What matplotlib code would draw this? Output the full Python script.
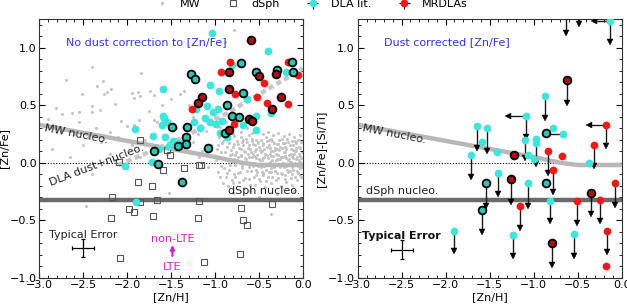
import matplotlib
matplotlib.use("Agg")
import matplotlib.pyplot as plt
from matplotlib.ticker import MultipleLocator

plt.rcParams['font.family'] = ['DejaVu Sans']
plt.rcParams['font.size'] = 8

# ---------------- data ----------------
# Milky Way stars (sparse part)
mw_sparse_x = [-2.40, -2.70, -2.27, -2.34, -1.84, -2.52, -2.23, -2.26, -2.18, -1.95, -1.875, -1.86, -1.92, -1.74,
               -1.70, -2.14, -2.81, -2.40, -2.40, -2.63, -2.55, -2.74, -2.31, -2.07, -2.00, -1.92, -1.87, -1.70,
               -1.66, -0.78, -0.89, -2.55, -2.75, -2.60, -2.45, -2.35, -2.20, -2.10, -2.30, -2.50, -2.85, -2.65,
               -2.20, -1.95, -1.80, -1.75, -1.60, -1.50, -1.40, -1.30, -1.25, -1.15, -1.45, -2.00, -1.85, -2.40,
               -2.47, -1.53, -0.37, -1.25, -1.20, -1.15, -1.10, -1.05, -1.02, -1.18, -1.08, -1.12, -1.00, -0.95,
               -0.90, -0.60, -0.30, -0.50, -0.80, -0.10, -1.35, -1.55, -2.90, -2.15]
mw_sparse_y = [0.83, 0.72, 0.71, 0.67, 0.78, 0.60, 0.615, 0.595, 0.64, 0.61, 0.615, 0.58, 0.56, 0.62,
               0.59, 0.51, 0.48, 0.49, 0.44, 0.43, 0.44, 0.42, 0.46, 0.36, 0.32, 0.33, 0.37, 0.37,
               0.35, 1.15, 1.05, 0.35, 0.28, 0.25, 0.22, 0.30, 0.27, 0.22, 0.18, 0.15, 0.12, 0.05,
               0.08, 0.15, 0.20, 0.45, 0.50, 0.55, 0.60, 0.50, 0.40, 0.32, 0.30, -0.05, 0.05, -0.10,
               -0.38, -0.26, -0.45, 0.18, 0.25, 0.10, 0.28, 0.15, 0.33, 0.05, -0.04, 0.38, 0.40, 0.45,
               0.42, -0.25, -0.27, -0.30, -0.26, -0.25, 0.62, 0.08, 0.38, 0.02]
# Milky Way stars (dense cloud at high metallicity)
mw_cloud_x = [-0.98, -0.96, -0.95, -0.93, -0.92, -0.90, -0.89, -0.88, -0.87, -0.86, -0.85, -0.84, -0.83, -0.82,
              -0.81, -0.80, -0.79, -0.78, -0.77, -0.76, -0.75, -0.74, -0.73, -0.72, -0.71, -0.70, -0.69, -0.68,
              -0.67, -0.66, -0.65, -0.64, -0.63, -0.62, -0.61, -0.60, -0.59, -0.58, -0.57, -0.56, -0.55, -0.54,
              -0.53, -0.52, -0.51, -0.50, -0.49, -0.48, -0.47, -0.46, -0.45, -0.44, -0.43, -0.42, -0.41, -0.40,
              -0.39, -0.38, -0.37, -0.36, -0.35, -0.34, -0.33, -0.32, -0.31, -0.30, -0.29, -0.28, -0.27, -0.26,
              -0.25, -0.24, -0.23, -0.22, -0.21, -0.20, -0.19, -0.18, -0.17, -0.16, -0.15, -0.14, -0.13, -0.12,
              -0.11, -0.10, -0.09, -0.08, -0.07, -0.06, -0.05, -0.04, -0.03, -0.02, -0.01,
              -0.97, -0.94, -0.91, -0.88, -0.85, -0.82, -0.79, -0.76, -0.73, -0.70, -0.67, -0.64, -0.61, -0.58,
              -0.55, -0.52, -0.49, -0.46, -0.43, -0.40, -0.37, -0.34, -0.31, -0.28, -0.25, -0.22, -0.19, -0.16,
              -0.13, -0.10, -0.07, -0.04, -0.02,
              -0.66, -0.63, -0.59, -0.56, -0.53, -0.50, -0.47, -0.44, -0.41, -0.38, -0.35, -0.32, -0.29, -0.26,
              -0.23, -0.20, -0.17, -0.14, -0.11, -0.08, -0.05, -0.62, -0.57, -0.48, -0.42, -0.33, -0.27, -0.19,
              -0.12, -0.03, -0.74, -0.71, -0.68, -0.80, -0.77,
              -0.61, -0.54, -0.45, -0.36, -0.24, -0.15, -0.06, -0.69, -0.51, -0.39, -0.21, -0.09, -0.58, -0.30,
              -0.99, -0.97, -0.94, -0.93, -0.91, -0.90, -0.87, -0.86, -0.84, -0.83, -0.81, -0.80, -0.78, -0.77,
              -0.75, -0.74, -0.72, -0.71, -0.69, -0.68, -0.66, -0.65, -0.64, -0.62, -0.61, -0.60, -0.58, -0.57,
              -0.56, -0.55, -0.54, -0.52, -0.51, -0.50, -0.49, -0.48, -0.47, -0.46, -0.45, -0.44, -0.43, -0.42,
              -0.41, -0.40, -0.39, -0.38, -0.37, -0.36, -0.35, -0.34, -0.33, -0.32, -0.31, -0.30, -0.29, -0.28,
              -0.27, -0.26, -0.25, -0.24, -0.23, -0.22, -0.21, -0.20, -0.19, -0.18, -0.17, -0.16, -0.15, -0.14,
              -0.13, -0.12, -0.11, -0.10, -0.09, -0.08, -0.07, -0.06, -0.05, -0.04, -0.03, -0.02, -0.01, -0.015,
              -0.035, -0.055, -0.075, -0.095, -0.115, -0.135]
mw_cloud_y = [0.12, 0.22, 0.05, -0.03, 0.17, 0.28, 0.09, -0.12, 0.02, 0.14, 0.21, -0.06, 0.07, 0.11,
              -0.15, 0.25, 0.03, 0.16, -0.02, 0.09, 0.19, -0.09, 0.13, 0.01, 0.22, 0.06, -0.05, 0.15,
              0.10, -0.13, 0.03, 0.18, 0.08, -0.01, 0.24, 0.12, -0.07, 0.05, 0.16, 0.00, 0.10, -0.11,
              0.20, 0.07, -0.03, 0.14, 0.02, 0.09, -0.08, 0.17, 0.04, 0.12, -0.02, 0.22, 0.07, -0.12,
              0.15, 0.01, 0.10, -0.05, 0.19, 0.06, -0.01, 0.13, 0.08, -0.09, 0.03, 0.16, 0.11, -0.04,
              0.05, 0.21, 0.00, 0.09, -0.14, 0.14, 0.04, -0.06, 0.18, 0.07, 0.01, 0.12, -0.10, 0.06,
              0.15, -0.02, 0.10, 0.03, -0.07, 0.20, 0.08, -0.01, 0.13, 0.04, -0.04,
              -0.08, 0.31, -0.18, 0.35, -0.20, 0.29, -0.10, 0.32, -0.17, 0.27, -0.22, 0.30, -0.14, 0.26,
              -0.19, 0.28, -0.16, 0.25, -0.21, 0.27, -0.18, 0.24, -0.15, 0.26, -0.20, 0.23, -0.17, 0.25,
              -0.19, 0.22, -0.15, 0.24, -0.12,
              0.04, 0.13, 0.09, 0.06, 0.12, 0.03, 0.10, 0.05, 0.14, 0.08, 0.02, 0.11, 0.07, 0.14,
              0.05, 0.09, 0.02, 0.08, 0.04, 0.13, 0.02, -0.04, -0.03, -0.04, -0.06, -0.04, -0.02, -0.03,
              -0.04, -0.05, 0.05, 0.12, 0.20, 0.14, 0.07,
              0.00, -0.06, -0.09, -0.08, -0.10, -0.07, -0.09, -0.03, 0.18, 0.20, 0.17, 0.19, 0.21, 0.16,
              0.02, 0.15, -0.12, 0.09, 0.19, -0.05, 0.24, -0.09, 0.17, -0.02, 0.08, -0.18, 0.23, -0.12,
              0.02, 0.16, -0.08, 0.07, 0.18, -0.15, 0.09, 0.21, -0.07, 0.15, 0.05, -0.19, 0.19, 0.08,
              -0.12, 0.15, 0.04, -0.08, 0.17, -0.14, 0.11, 0.20, 0.02, -0.11, 0.15, -0.03, 0.08, -0.16,
              0.19, 0.04, -0.08, 0.13, 0.21, 0.06, -0.12, 0.10, 0.17, -0.07, 0.02, 0.12, -0.13, 0.07,
              0.20, 0.03, -0.09, 0.13, 0.17, -0.04, 0.06, -0.11, 0.12, 0.21, -0.08, 0.03, 0.15, -0.13,
              0.06, 0.19, -0.06, 0.08, -0.12, 0.17, 0.05, -0.09, 0.14, 0.06, -0.11, 0.18, 0.09, -0.02,
              0.01, -0.03, 0.10, 0.00, 0.11, 0.01]

# dSph stars (left panel only)
dsph_x = [-1.86, -1.55, -1.515, -2.09, -1.59, -1.35, -1.18, -1.16, -1.875, -1.72, -2.17, -1.86, -1.66, -1.18,
          -1.98, -1.92, -2.18, -1.71, -1.19, -0.70, -0.35, -0.68, -0.64, -2.08, -1.13, -0.72]
dsph_y = [0.195, 0.11, 0.07, 0.005, -0.06, -0.05, -0.02, -0.02, -0.17, -0.20, -0.30, -0.34, -0.32, -0.33,
          -0.40, -0.43, -0.48, -0.46, -0.48, -0.39, -0.36, -0.50, -0.54, -0.83, -0.86, -0.79]

# Left panel: no dust correction
dla_x = [-1.03, -0.394, -0.19, -0.81, -1.06, -0.96, -0.64, -1.59, -0.37, -0.53, -0.53, -0.68, -0.87, -1.22,
         -1.09, -1.02, -0.97, -1.12, -1.06, -0.985, -0.92, -0.95, -1.24, -1.175, -1.91, -1.59, -1.60, -1.71,
         -1.57, -1.48, -1.40, -1.53, -1.64, -2.03, -1.72, -1.90, -1.545, -1.58]
dla_y = [1.125, 0.974, 0.79, 0.85, 0.68, 0.625, 0.55, 0.645, 0.43, 0.41, 0.285, 0.33, 0.22, 0.465,
         0.49, 0.44, 0.465, 0.39, 0.35, 0.335, 0.36, 0.26, 0.35, 0.305, 0.29, 0.41, 0.33, 0.23,
         0.22, 0.19, 0.175, 0.145, 0.12, -0.03, 0.005, -0.34, 0.35, 0.39]
dlab_x = [-0.70, -0.54, -0.30, -0.13, -0.11, -1.28, -1.23, -0.68, -0.87, -0.81, -0.73, -0.89, -1.49, -1.32,
          -1.33, -1.33, -1.42, -1.70, -1.08, -1.65, -1.38]
dlab_y = [0.863, 0.785, 0.805, 0.88, 0.79, 0.77, 0.73, 0.61, 0.50, 0.41, 0.40, 0.26, 0.31, 0.31,
          0.22, 0.16, 0.145, 0.10, 0.125, -0.01, -0.17]
mr_x = [-0.83, -0.93, -0.17, -0.06, -0.44, -0.77, -0.52, -0.405, -0.17, -1.26, -0.78]
mr_y = [0.88, 0.79, 0.88, 0.76, 0.69, 0.60, 0.57, 0.52, 0.515, 0.47, 0.34]
mrb_x = [-0.595, -0.84, -0.50, -0.31, -0.84, -0.25, -0.35, -1.15, -1.19, -0.61, -0.58, -0.845]
mrb_y = [1.064, 0.79, 0.75, 0.77, 0.645, 0.57, 0.47, 0.57, 0.52, 0.38, 0.36, 0.285]

# Right panel: dust corrected (value, downward-limit end, leftward-limit end)
rdla_x = [-0.13, -0.867, -1.09, -0.67, -0.78, -1.64, -1.53, -1.59, -1.42, -1.10, -0.97, -0.975, -1.06, -1.00,
          -1.71, -0.37, -1.40, -1.07, -0.815, -1.905, -1.23, -0.54]
rdla_y = [1.235, 0.58, 0.41, 0.25, 0.30, 0.32, 0.30, 0.18, 0.09, 0.20, 0.21, 0.17, 0.07, 0.035,
          0.07, 0.00, -0.087, -0.18, -0.33, -0.59, -0.63, -0.62]
rdla_down = [1.05, 0.39, 0.22, None, None, 0.13, 0.10, None, None, 0.04, -0.01, None, None, None,
             -0.12, None, -0.276, -0.38, -0.51, -0.77, -0.81, -0.81]
rdla_left = [-0.32, None, -1.29, -0.86, None, None, None, None, None, None, None, None, None, None,
             None, None, None, None, None, None, None, None]
rdlab_x = [-0.86, -1.545, -0.86, -1.59]
rdlab_y = [0.26, -0.18, -0.175, -0.41]
rdlab_down = [None, -0.38, None, -0.60]
rmr_x = [-0.18, -0.32, -0.84, -0.675, -0.78, -1.15, -0.51, -0.25, -0.076, -0.17, -0.18]
rmr_y = [0.33, 0.15, 0.10, 0.06, -0.064, -0.38, -0.33, -0.325, -0.18, -0.59, -0.895]
rmr_down = [0.145, -0.03, -0.09, None, -0.256, -0.57, -0.52, -0.51, -0.37, -0.78, None]
rmr_left = [-0.37, None, None, None, None, None, None, None, None, None, None]
rmrb_x = [-0.625, -1.22, -1.26, -0.35, -0.79]
rmrb_y = [0.718, 0.07, -0.145, -0.26, -0.70]
rmrb_down = [0.52, None, -0.34, -0.45, -0.89]
# limits from points above the plotted range
off_x = [-0.636, -0.49]
off_y = [1.40, 1.35]
off_down = [1.13, 1.21]

# model curves
mwn_x = [-3.0, -2.5, -2.0, -1.5, -1.0, -0.7, -0.5, 0.0]
mwn_y = [0.33, 0.26, 0.19, 0.12, 0.05, 0.00, -0.02, -0.02]
dlan_x = [-2.1, -1.7, -1.33, -0.8, -0.4, 0.0]
dlan_y = [-0.02, 0.11, 0.23, 0.46, 0.64, 0.82]
dsph_nucleo = -0.32

# ---------------- style ----------------
C_CYAN = '#3fe5da'
C_CYANB = '#2fc4b6'
C_RED = '#ee1a1a'
C_REDB = '#b01010'
C_MW = '#c4c4c4'
C_TXT = '#3333dd'
MS = 5.6

fig = plt.figure(figsize=(6.27, 3.04), dpi=100)
ax1 = fig.add_axes([0.0627, 0.0865, 0.4206, 0.851])
ax2 = fig.add_axes([0.5705, 0.0865, 0.4210, 0.851])

for ax in (ax1, ax2):
    ax.set_xlim(-3.0, 0.0)
    ax.set_ylim(-1.0, 1.25)
    ax.xaxis.set_major_locator(MultipleLocator(0.5))
    ax.xaxis.set_minor_locator(MultipleLocator(0.1))
    ax.yaxis.set_major_locator(MultipleLocator(0.5))
    ax.yaxis.set_minor_locator(MultipleLocator(0.1))
    ax.tick_params(which='both', direction='in', top=True, right=True, labelsize=8, pad=2)
    ax.tick_params(which='major', length=4, width=0.8)
    ax.tick_params(which='minor', length=2, width=0.6)
    ax.axhline(0.0, color='k', lw=0.8, ls=(0, (1, 1.5)), zorder=1)
    ax.axhline(dsph_nucleo, color='#6a6a6a', lw=3.2, zorder=2)
    ax.plot(mwn_x, mwn_y, color='#b8b8b8', lw=3.2, zorder=2, solid_capstyle='butt')
    ax.set_xlabel('[Zn/H]', fontsize=8, labelpad=1)
    for sp in ax.spines.values():
        sp.set_linewidth(0.8)
        sp.set_color('#333333')

# ---- left panel ----
ax1.plot(mw_sparse_x, mw_sparse_y, 'o', ms=2.2, color=C_MW, mec='none', zorder=1)
ax1.plot(mw_cloud_x, mw_cloud_y, 'o', ms=2.2, color=C_MW, mec='none', zorder=1)
ax1.plot(dlan_x, dlan_y, color='#c6c6c6', lw=3.2, ls=(0, (1.2, 0.8)), zorder=2)
ax1.plot(dsph_x, dsph_y, 's', ms=4.6, mfc='none', mec='#555555', mew=0.8, zorder=3)
ax1.plot(dla_x, dla_y, 'o', ms=MS, color=C_CYAN, mec='none', zorder=4)
ax1.plot(mr_x, mr_y, 'o', ms=MS, color=C_RED, mec='none', zorder=4)
ax1.plot(dlab_x, dlab_y, 'o', ms=MS, mfc=C_CYANB, mec='k', mew=1.3, zorder=5)
ax1.plot(mrb_x, mrb_y, 'o', ms=MS, mfc=C_REDB, mec='k', mew=1.3, zorder=5)
ax1.set_ylabel('[Zn/Fe]', fontsize=8, labelpad=0)

ax1.text(-2.70, 1.05, 'No dust correction to [Zn/Fe]', color=C_TXT, fontsize=8, va='center', ha='left')
ax1.text(-2.95, 0.255, 'MW nucleo.', fontsize=8, rotation=-11, ha='left', va='bottom',
         rotation_mode='anchor', color='#222222')
ax1.text(-2.86, -0.22, 'DLA dust+nucleo.', fontsize=8, rotation=21, ha='left', va='bottom',
         rotation_mode='anchor', color='#222222')
ax1.text(-0.03, -0.29, 'dSph nucleo.', fontsize=8, ha='right', va='bottom', color='#222222')
ax1.text(-2.50, -0.625, 'Typical Error', fontsize=8, ha='center', va='center', color='#222222')
ax1.errorbar([-2.5], [-0.74], xerr=[0.125], yerr=[0.08], fmt='none', ecolor='k', elinewidth=0.9,
             capsize=1.5, capthick=0.9)
ax1.text(-1.485, -0.66, 'non-LTE', fontsize=8, color='#cc22cc', ha='center', va='center')
ax1.text(-1.485, -0.905, 'LTE', fontsize=8, color='#cc22cc', ha='center', va='center')
ax1.annotate('', xy=(-1.485, -0.715), xytext=(-1.485, -0.81),
             arrowprops=dict(arrowstyle='-|>', color='#cc22cc', lw=1.6, mutation_scale=6,
                             shrinkA=0, shrinkB=0))

# ---- right panel ----
ARC = '#1a1a1a'


def limits(ax, xs, ys, downs, lefts=None):
    for i, (x, y) in enumerate(zip(xs, ys)):
        d = downs[i] if downs is not None else None
        lft = lefts[i] if lefts is not None else None
        if d is not None:
            ax.plot([x, x], [y, d], color=ARC, lw=1.0, zorder=3)
            ax.plot([x], [d], marker='v', ms=4, color='k', mec='k', mew=0.3, zorder=3)
        if lft is not None:
            ax.plot([x, lft], [y, y], color=ARC, lw=1.0, zorder=3)
            ax.plot([lft], [y], marker='<', ms=4, color='k', mec='k', mew=0.3, zorder=3)


limits(ax2, rdla_x, rdla_y, rdla_down, rdla_left)
limits(ax2, rdlab_x, rdlab_y, rdlab_down)
limits(ax2, rmr_x, rmr_y, rmr_down, rmr_left)
limits(ax2, rmrb_x, rmrb_y, rmrb_down)
limits(ax2, off_x, off_y, off_down)
ax2.plot(rdla_x, rdla_y, 'o', ms=MS, color=C_CYAN, mec='none', zorder=4)
ax2.plot(rmr_x, rmr_y, 'o', ms=MS, color=C_RED, mec='none', zorder=4)
ax2.plot(rdlab_x, rdlab_y, 'o', ms=MS, mfc=C_CYANB, mec='k', mew=1.3, zorder=5)
ax2.plot(rmrb_x, rmrb_y, 'o', ms=MS, mfc=C_REDB, mec='k', mew=1.3, zorder=5)
ax2.set_ylabel('[Zn/Fe]-[Si/Ti]', fontsize=8, labelpad=1)

ax2.text(-2.70, 1.05, 'Dust corrected [Zn/Fe]', color=C_TXT, fontsize=8, va='center', ha='left')
ax2.text(-2.95, 0.255, 'MW nucleo.', fontsize=8, rotation=-11, ha='left', va='bottom',
         rotation_mode='anchor', color='#222222')
ax2.text(-2.91, -0.29, 'dSph nucleo.', fontsize=8, ha='left', va='bottom', color='#222222')
ax2.text(-2.50, -0.635, 'Typical Error', fontsize=8, ha='center', va='center', color='#111111',
         fontweight='semibold')
ax2.errorbar([-2.5], [-0.755], xerr=[0.125], yerr=[0.08], fmt='none', ecolor='k', elinewidth=0.9,
             capsize=1.5, capthick=0.9)

# ---- legend ----
h_mw, = ax1.plot([], [], 'o', ms=2.5, color=C_MW, mec='none')
h_ds, = ax1.plot([], [], 's', ms=4.6, mfc='none', mec='#555555', mew=0.8)
h_dla = ax1.errorbar([], [], xerr=[], yerr=[], fmt='o', ms=MS, color=C_CYAN, mec='none',
                     ecolor='k', elinewidth=0.8, capsize=1.5)
h_mr = ax1.errorbar([], [], xerr=[], yerr=[], fmt='o', ms=MS, color=C_RED, mec='none',
                    ecolor='k', elinewidth=0.8, capsize=1.5)
fig.legend([h_mw, h_ds, h_dla, h_mr], ['MW', 'dSph', 'DLA lit.', 'MRDLAs'], loc='upper center',
           bbox_to_anchor=(0.495, 1.035), ncol=4, frameon=False, fontsize=8, handlelength=1.6,
           columnspacing=2.2, handletextpad=0.8)

fig.savefig('out.png', dpi=100)
